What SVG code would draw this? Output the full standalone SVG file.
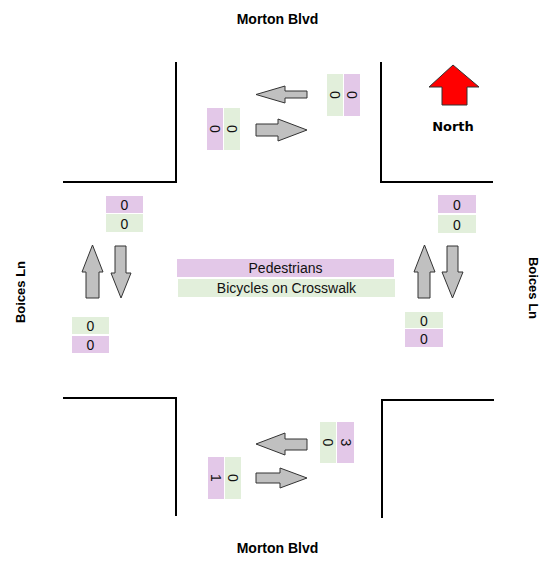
<svg xmlns="http://www.w3.org/2000/svg" width="549" height="562" viewBox="0 0 549 562">
<style>
.road{fill:none;stroke:#000;stroke-width:2}
.arr{fill:#c0c0c0;stroke:#333;stroke-width:1}
.pk{fill:#e3c8e8}
.gr{fill:#e2efdb}
.t{font-family:"Liberation Sans",Arial,sans-serif;font-size:14px;fill:#111}
.n{font-family:"Liberation Sans",Arial,sans-serif;font-size:14px;fill:#111}
.b{font-family:"Liberation Sans",Arial,sans-serif;font-size:14px;font-weight:bold;fill:#000}
</style>
<rect width="549" height="562" fill="#fff"/>
<g id="roads">
<polyline class="road" points="176,62 176,182 63,182"/>
<polyline class="road" points="381,62 381,182 493,182"/>
<polyline class="road" points="63,398 176,398 176,516"/>
<polyline class="road" points="382,518 382,400 494,400"/>
</g>
<g id="titles">
<text class="b" x="277.5" y="24" text-anchor="middle">Morton Blvd</text>
<text class="b" x="277.5" y="553" text-anchor="middle">Morton Blvd</text>
<text class="b" transform="translate(25,292) rotate(-90)" text-anchor="middle" style="font-size:13px">Boices Ln</text>
<text class="b" transform="translate(529,288) rotate(90)" text-anchor="middle" style="font-size:13px">Boices Ln</text>
</g>
<g id="north">
<polygon points="453,65 479,87 467,87 467,105 442,105 442,87 429,87" fill="#ff0000" stroke="#333" stroke-width="1"/>
<text x="453" y="131" text-anchor="middle" style="font-family:'DejaVu Sans',Verdana,sans-serif;font-size:13px;font-weight:bold">North</text>
</g>
<g id="connectors">
<polygon class="arr" points="256,94.5 285,86 285,91 307,91 307,98 285,98 285,103"/>
<polygon class="arr" points="256,124 278,124 278,119 307,130 278,141 278,136 256,136"/>
<polygon class="arr" points="256,444 285,433 285,439 307,439 307,450 285,450 285,455"/>
<polygon class="arr" points="256,473 280,473 280,468 307,478 280,488 280,483 256,483"/>
<polygon class="arr" points="92.5,245 103,272 99,272 99,298 86,298 86,272 82,272"/>
<polygon class="arr" points="115,246 126,246 126,273 131,273 121,298 111,273 115,273"/>
<polygon class="arr" points="424.5,245 435,272 430,272 430,298 418,298 418,272 414,272"/>
<polygon class="arr" points="447,246 458,246 458,272 463,272 452.5,298 442,272 447,272"/>
</g>
<g id="north-approach">
<rect class="pk" x="207" y="108" width="16" height="42"/>
<rect class="gr" x="224" y="108" width="16" height="42"/>
<text class="n" transform="translate(215,129) rotate(90)" text-anchor="middle" dy="5">0</text>
<text class="n" transform="translate(232,129) rotate(90)" text-anchor="middle" dy="5">0</text>
<rect class="gr" x="327" y="74" width="16" height="42"/>
<rect class="pk" x="344" y="74" width="16" height="42"/>
<text class="n" transform="translate(335,95) rotate(90)" text-anchor="middle" dy="5">0</text>
<text class="n" transform="translate(352,95) rotate(90)" text-anchor="middle" dy="5">0</text>
</g>
<g id="west-approach">
<rect class="pk" x="106" y="196" width="37" height="17"/>
<rect class="gr" x="106" y="214" width="37" height="18"/>
<text class="n" x="124.5" y="210" text-anchor="middle">0</text>
<text class="n" x="124.5" y="228.5" text-anchor="middle">0</text>
<rect class="gr" x="72" y="317" width="37" height="17"/>
<rect class="pk" x="72" y="336" width="37" height="17"/>
<text class="n" x="90.5" y="331" text-anchor="middle">0</text>
<text class="n" x="90.5" y="350" text-anchor="middle">0</text>
</g>
<g id="east-approach">
<rect class="pk" x="438" y="195" width="38" height="18"/>
<rect class="gr" x="438" y="215" width="38" height="18"/>
<text class="n" x="457" y="209.5" text-anchor="middle">0</text>
<text class="n" x="457" y="229.5" text-anchor="middle">0</text>
<rect class="gr" x="405" y="312" width="38" height="16"/>
<rect class="pk" x="405" y="329" width="38" height="18"/>
<text class="n" x="424" y="325.5" text-anchor="middle">0</text>
<text class="n" x="424" y="343.5" text-anchor="middle">0</text>
</g>
<g id="south-approach">
<rect class="pk" x="208" y="457" width="16" height="42"/>
<rect class="gr" x="225" y="457" width="16" height="42"/>
<text class="n" transform="translate(216,478) rotate(90)" text-anchor="middle" dy="5">1</text>
<text class="n" transform="translate(233,478) rotate(90)" text-anchor="middle" dy="5">0</text>
<rect class="gr" x="320" y="422" width="16" height="41"/>
<rect class="pk" x="337" y="422" width="17" height="41"/>
<text class="n" transform="translate(328,442.5) rotate(90)" text-anchor="middle" dy="5">0</text>
<text class="n" transform="translate(345.5,442.5) rotate(90)" text-anchor="middle" dy="5">3</text>
</g>
<g id="legend">
<rect class="pk" x="177" y="259" width="217" height="18"/>
<rect class="gr" x="178" y="279" width="217" height="18"/>
<text class="t" x="285.5" y="273" text-anchor="middle">Pedestrians</text>
<text class="t" x="286.5" y="293" text-anchor="middle">Bicycles on Crosswalk</text>
</g>
</svg>
